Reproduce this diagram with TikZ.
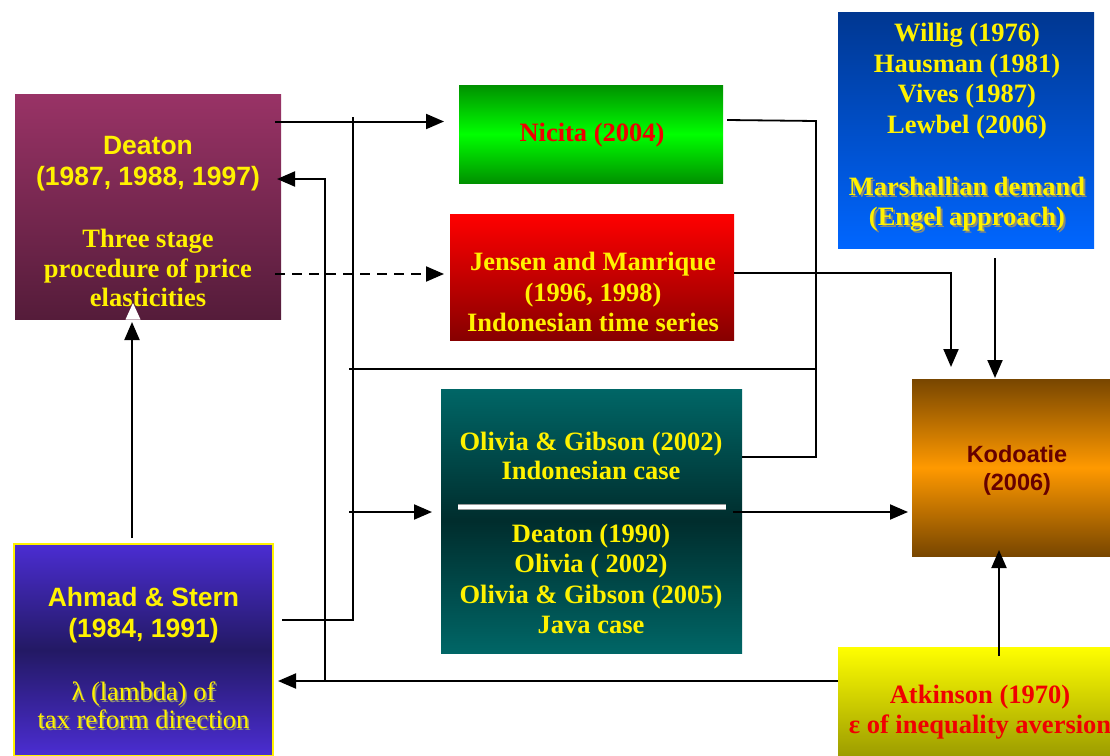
\documentclass[tikz,border=0pt]{standalone}
\usepackage{fontspec}
\setmainfont{Liberation Serif}
\newfontfamily\arialfont{Liberation Sans}
\usetikzlibrary{arrows.meta}

\definecolor{deatonTop}{RGB}{153,51,102}
\definecolor{deatonBot}{RGB}{85,28,58}
\definecolor{nicitaEdge}{RGB}{0,145,0}
\definecolor{nicitaMid}{RGB}{0,255,0}
\definecolor{jensenTop}{RGB}{255,0,0}
\definecolor{jensenBot}{RGB}{135,0,0}
\definecolor{willigTop}{RGB}{0,55,145}
\definecolor{willigBot}{RGB}{0,102,255}
\definecolor{oliviaEdge}{RGB}{0,102,102}
\definecolor{oliviaMid}{RGB}{0,45,45}
\definecolor{kodoEdge}{RGB}{120,70,0}
\definecolor{kodoMid}{RGB}{255,153,0}
\definecolor{ahmadEdge}{RGB}{75,45,210}
\definecolor{ahmadMid}{RGB}{35,25,100}
\definecolor{atkTop}{RGB}{255,255,0}
\definecolor{atkBot}{RGB}{150,150,0}
\definecolor{kodoText}{RGB}{102,0,0}
\definecolor{redText}{RGB}{240,0,0}
\definecolor{shadowGray}{RGB}{140,140,120}

\begin{document}
\begin{tikzpicture}[x=1pt,y=-1pt,
  box/.style={rectangle, draw=none, inner sep=0pt, outer sep=0pt},
  txt/.style={align=center, inner sep=0pt, text=yellow},
  tnr/.style={txt, font=\fontsize{26.5}{30.5}\selectfont\bfseries},
  tnrplain/.style={txt, font=\fontsize{26.5}{28}\selectfont},
  ari/.style={txt, font=\arialfont\fontsize{26.5}{31.5}\selectfont\bfseries},
  shadowtxt/.style={text=shadowGray},
  link/.style={line width=1.8pt, black},
  arrow/.style={link, line width=2pt, -{Triangle[length=18pt,width=15pt]}},
]
\useasboundingbox (0,0) rectangle (1110,755);
\clip (0,0) rectangle (1110,755);

% ---------- boxes ----------
\node[box, minimum width=266pt, minimum height=225pt,
      top color=deatonTop, bottom color=deatonBot] (deaton) at (148,206.5) {};
\node[box, minimum width=264pt, minimum height=98pt,
      top color=nicitaEdge, bottom color=nicitaEdge, middle color=nicitaMid] (nicita) at (591,134) {};
\node[box, minimum width=284pt, minimum height=126pt,
      top color=jensenTop, bottom color=jensenBot] (jensen) at (592,277) {};
\node[box, minimum width=256pt, minimum height=236pt,
      top color=willigTop, bottom color=willigBot] (willig) at (966,130) {};
\node[box, minimum width=301pt, minimum height=264pt,
      top color=oliviaEdge, bottom color=oliviaEdge, middle color=oliviaMid] (olivia) at (591.5,521) {};
\node[box, minimum width=210pt, minimum height=177pt,
      top color=kodoEdge, bottom color=kodoEdge, middle color=kodoMid] (kodo) at (1017,467.5) {};
\node[box, minimum width=259pt, minimum height=212pt,
      top color=ahmadEdge, bottom color=ahmadEdge, middle color=ahmadMid,
      draw=yellow, line width=2pt] (ahmad) at (143.5,650) {};
\node[box, minimum width=284pt, minimum height=116pt,
      top color=atkTop, bottom color=atkBot] (atk) at (980,705) {};

% divider inside the Olivia box
\coordinate (divL) at (458,507);
\coordinate (divR) at (726,507);
\draw[black!40, line width=6.5pt] (divL) -- (divR);
\draw[white, line width=4.5pt] (divL) -- (divR);

% ---------- texts ----------
\node[ari] (deatonA) at (148,163.5) {Deaton\\(1987, 1988, 1997)};
\node[tnr, font=\fontsize{26.5}{29.5}\selectfont\bfseries] (deatonB) at (148,268) {Three stage\\procedure of price\\elasticities};
\node[tnr, text=redText] (nicitaT) at (592,135) {Nicita (2004)};
\node[tnr] (jensenT) at (593,292) {Jensen and Manrique\\(1996, 1998)\\Indonesian time series};
\node[tnr, font=\fontsize{26.5}{30.7}\selectfont\bfseries] (willigA) at (967,81)
  {Willig (1976)\\Hausman (1981)\\Vives (1987)\\Lewbel (2006)};
\node[tnr, shadowtxt, font=\fontsize{26.5}{30}\selectfont\bfseries] (willigS) at (969,206.5)
  {Marshallian demand\\(Engel approach)};
\node[tnr, font=\fontsize{26.5}{30}\selectfont\bfseries] (willigB) at (967,204.5)
  {Marshallian demand\\(Engel approach)};
\node[tnr, font=\fontsize{26.5}{29}\selectfont\bfseries] (oliviaA) at (591,456) {Olivia \& Gibson (2002)\\Indonesian case};
\node[tnr, font=\fontsize{26.5}{30.3}\selectfont\bfseries] (oliviaB) at (591,579)
  {Deaton (1990)\\Olivia ( 2002)\\Olivia \& Gibson (2005)\\Java case};
\node[ari, text=kodoText, font=\arialfont\fontsize{23.5}{28}\selectfont\bfseries] (kodoT) at (1017,470.5) {Kodoatie\\(2006)};
\node[ari, font=\arialfont\fontsize{26.5}{31}\selectfont\bfseries] (ahmadA) at (143.5,615) {Ahmad \& Stern\\(1984, 1991)};
\node[tnrplain, shadowtxt] (ahmadS) at (145,707.5) {λ (lambda) of\\tax reform direction};
\node[tnrplain] (ahmadB) at (143.5,705.5) {λ (lambda) of\\tax reform direction};
\node[tnr, text=redText, font=\fontsize{26.5}{30}\selectfont\bfseries] (atkT) at (980,712.5) {Atkinson (1970)\\ε of inequality aversion};

% ---------- connectors ----------
% Deaton to Nicita and (dashed) to Jensen
\coordinate (dOut) at (275,121.5);
\coordinate (nIn) at (444,121.5);
\draw[arrow] (dOut) -- (nIn);
\coordinate (dDash) at (275,274);
\coordinate (jIn) at (444,274);
\draw[arrow, dash pattern=on 10pt off 7pt] (dDash) -- (jIn);

% Ahmad & Stern trunk on the left
\coordinate (aOut) at (282,620);
\coordinate (tBot) at (353,620);
\coordinate (tTop) at (353,117);
\draw[link] (aOut) -- (tBot) -- (tTop);
\coordinate (tMid) at (349,369);
\coordinate (cMid) at (816,369);
\draw[link] (tMid) -- (cMid);
\coordinate (tO) at (349,512);
\coordinate (oIn) at (432,512);
\draw[arrow] (tO) -- (oIn);

% collector between Nicita and Olivia
\coordinate (nOut) at (727,120);
\coordinate (cTop) at (816,121);
\coordinate (cBot) at (816,457);
\coordinate (oOut) at (742,457);
\draw[link] (nOut) -- (cTop) -- (cBot) -- (oOut);

% inputs of Kodoatie
\coordinate (jOut) at (734,273);
\coordinate (jCorner) at (951,273);
\coordinate (kIn1) at (951,367);
\draw[arrow] (jOut) -- (jCorner) -- (kIn1);
\coordinate (wOut) at (995,258);
\coordinate (kIn2) at (995,378);
\draw[arrow] (wOut) -- (kIn2);
\coordinate (oOut2) at (733,512);
\coordinate (kIn3) at (908,512);
\draw[arrow] (oOut2) -- (kIn3);
\coordinate (atkUp) at (999,656);
\coordinate (kIn4) at (999,550);
\draw[arrow] (atkUp) -- (kIn4);

% Atkinson back to Ahmad & Stern, with a branch up to Deaton
\coordinate (atkOut) at (838,681);
\coordinate (aIn) at (278,681);
\draw[arrow] (atkOut) -- (aIn);
\coordinate (bBot) at (325,681);
\coordinate (bTop) at (325,179);
\coordinate (dIn) at (277,179);
\draw[arrow] (bBot) -- (bTop) -- (dIn);

% Ahmad & Stern up to Deaton
\coordinate (aTop) at (132,538);
\coordinate (dBot) at (132,322);
\fill[white] (125.5,319.5) -- (133,303) -- (140.5,319.5) -- cycle;
\draw[arrow] (aTop) -- (dBot);
\end{tikzpicture}
\end{document}
